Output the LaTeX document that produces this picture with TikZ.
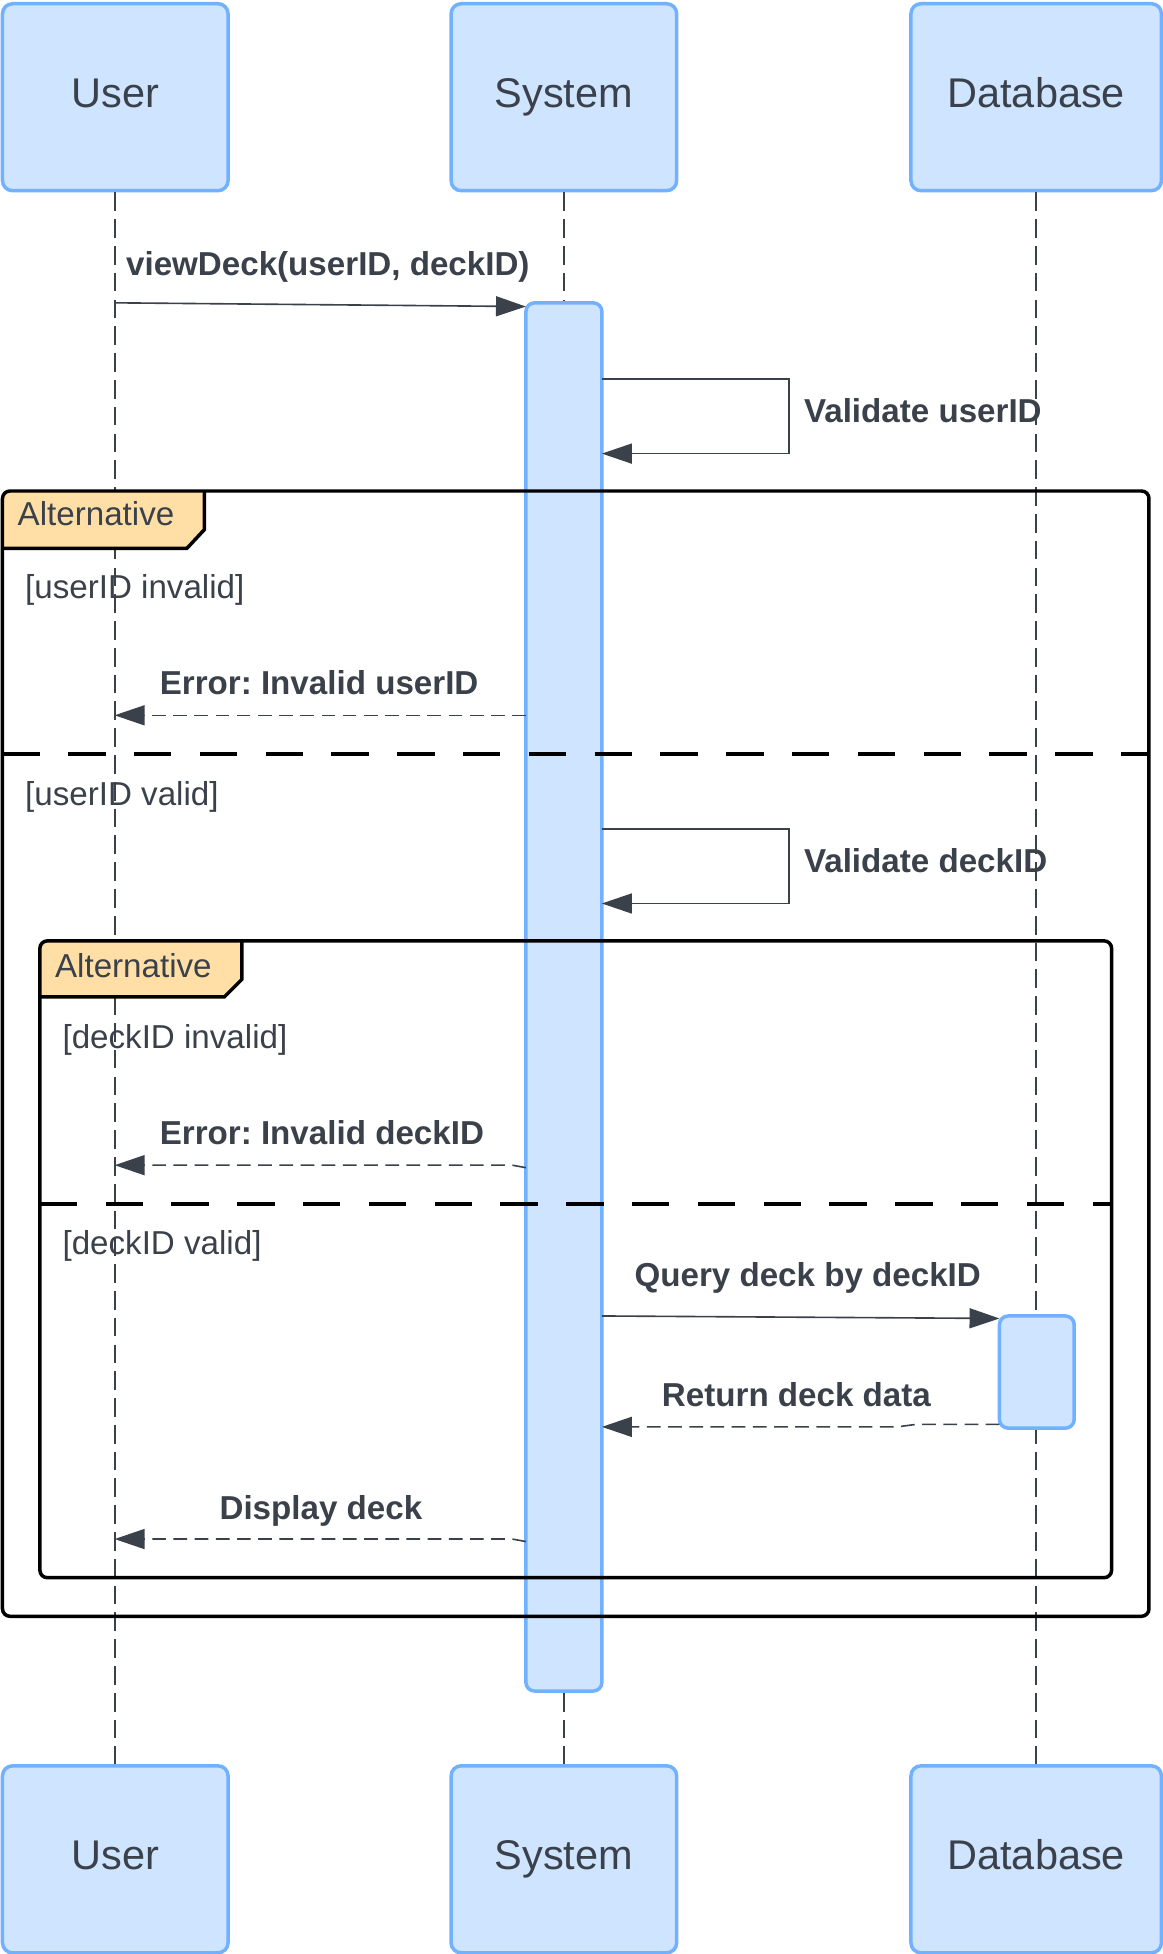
\documentclass[tikz,border=0pt]{standalone}
\usepackage{fontspec}
\setmainfont{Liberation Sans}
\usetikzlibrary{arrows.meta}
\definecolor{boxfill}{HTML}{CFE4FF}
\definecolor{boxline}{HTML}{72B1FF}
\definecolor{ink}{HTML}{3A414A}
\definecolor{tabfill}{HTML}{FFDFA6}
\frenchspacing
\begin{document}
\begin{tikzpicture}[x=1pt,y=-1pt,
  actor/.style={draw=boxline, fill=boxfill, line width=2.8pt, rounded corners=8pt,
    minimum height=150pt, inner sep=0pt, text=ink, text height=24pt, text depth=7pt,
    font=\fontsize{33.3}{40}\selectfont},
  actbar/.style={draw=boxline, fill=boxfill, line width=2.8pt, rounded corners=7pt, inner sep=0pt},
  lifeline/.style={draw=ink, line width=1.3pt, dash pattern=on 15pt off 6.5pt},
  msg/.style={draw=ink, line width=1.3pt, -{Triangle[length=24pt,width=16pt]}},
  retmsg/.style={msg, dash pattern=on 11pt off 6pt},
  selfmsg/.style={draw=ink, line width=1.3pt, -{Triangle[length=24pt,width=16pt]}},
  lbl/.style={anchor=base west, inner sep=0pt, text=ink, font=\fontsize{26.6}{30}\selectfont\bfseries},
  guard/.style={anchor=base west, inner sep=0pt, text=ink, font=\fontsize{26.6}{30}\selectfont},
  frameline/.style={draw=black, line width=2.8pt},
  sepline/.style={draw=black, line width=2.8pt, dash pattern=on 30pt off 22.8pt}
]
\useasboundingbox (0,0) rectangle (933,1568);

% actors
\node[actor, minimum width=181pt] (userTop) at (92.5,78) {User};
\node[actor, minimum width=181pt] (sysTop) at (452.5,78) {System};
\node[actor, minimum width=201pt] (dbTop) at (831.5,78) {Database};
\node[actor, minimum width=181pt] (userBot) at (92.5,1492) {User};
\node[actor, minimum width=181pt] (sysBot) at (452.5,1492) {System};
\node[actor, minimum width=201pt] (dbBot) at (831.5,1492) {Database};

% lifelines
\draw[lifeline] (userTop.south) -- (userBot.north);
\draw[lifeline] (sysTop.south) -- (sysBot.north);
\draw[lifeline] (dbTop.south) -- (dbBot.north);

% activations
\node[actbar, minimum width=61pt, minimum height=1114pt] (sysAct) at (452.5,800) {};
\node[actbar, minimum width=60pt, minimum height=90pt] (dbAct) at (832,1101) {};

% outer frame
\fill[tabfill, rounded corners=6pt] (2,440) -- (2,394) -- (164,394) [sharp corners] -- (164,425) -- (150,440) -- cycle;
\draw[frameline] (164,394) -- (164,425) -- (150,440) -- (2,440);
\draw[frameline, rounded corners=6pt] (2,394) rectangle (922,1297);
\node[guard] (alt1) at (14,422) {Alternative};
\draw[sepline] (2,605) -- (922,605);
\node[guard] (g1) at (20,480) {[userID invalid]};
\node[guard] (g2) at (20,646) {[userID valid]};

% inner frame
\fill[tabfill, rounded corners=6pt] (32,800) -- (32,755) -- (194,755) [sharp corners] -- (194,786) -- (180,800) -- cycle;
\draw[frameline] (194,755) -- (194,786) -- (180,800) -- (32,800);
\draw[frameline, rounded corners=6pt] (32,755) rectangle (892,1266);
\node[guard] (alt2) at (44,784) {Alternative};
\draw[sepline] (32,966) -- (892,966);
\node[guard] (g3) at (50,841) {[deckID invalid]};
\node[guard] (g4) at (50,1007) {[deckID valid]};

% message end points
\coordinate (m1a) at (92,243);
\coordinate (m1b) at (422,246);
\coordinate (s1a) at (483,304);
\coordinate (s1b) at (633,304);
\coordinate (s1c) at (633,364);
\coordinate (s1d) at (483,364);
\coordinate (e1a) at (422,574);
\coordinate (e1b) at (92,574);
\coordinate (s2a) at (483,665);
\coordinate (s2b) at (633,665);
\coordinate (s2c) at (633,725);
\coordinate (s2d) at (483,725);
\coordinate (e2a) at (422,937);
\coordinate (e2k) at (411,935);
\coordinate (e2b) at (92,935);
\coordinate (q1a) at (483,1056);
\coordinate (q1b) at (802,1058);
\coordinate (r1a) at (802,1143);
\coordinate (r1k) at (735,1143);
\coordinate (r1l) at (720,1145);
\coordinate (r1b) at (483,1145);
\coordinate (d1a) at (422,1237);
\coordinate (d1k) at (411,1235);
\coordinate (d1b) at (92,1235);

% messages
\draw[msg] (m1a) -- (m1b);
\node[lbl] (l1) at (101,221) {viewDeck(userID, deckID)};
\draw[selfmsg] (s1a) -- (s1b) -- (s1c) -- (s1d);
\node[lbl] (l2) at (645,339) {Validate userID};
\draw[retmsg] (e1a) -- (e1b);
\node[lbl] (l3) at (128,557) {Error: Invalid userID};
\draw[selfmsg] (s2a) -- (s2b) -- (s2c) -- (s2d);
\node[lbl] (l4) at (645,700) {Validate deckID};
\draw[retmsg] (e2a) -- (e2k) -- (e2b);
\node[lbl] (l5) at (128,918) {Error: Invalid deckID};
\draw[msg] (q1a) -- (q1b);
\node[lbl] (l6) at (509,1032) {Query deck by deckID};
\draw[retmsg] (r1a) -- (r1k) -- (r1l) -- (r1b);
\node[lbl] (l7) at (531,1129) {Return deck data};
\draw[retmsg] (d1a) -- (d1k) -- (d1b);
\node[lbl] (l8) at (176,1219) {Display deck};
\end{tikzpicture}
\end{document}
